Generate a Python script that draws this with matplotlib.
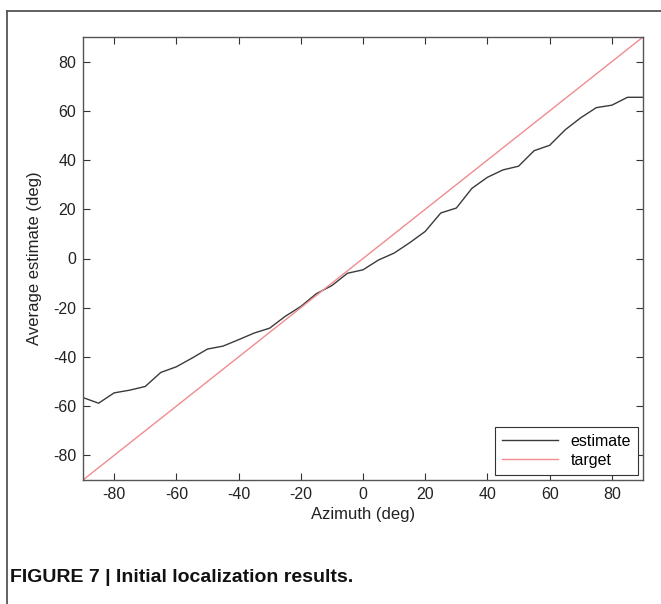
import matplotlib.pyplot as plt
import numpy as np
from matplotlib.lines import Line2D

plt.rcParams['font.family'] = ['Liberation Sans', 'DejaVu Sans']
plt.rcParams['axes.unicode_minus'] = False

# azimuth targets (deg) and average estimates
azimuth = np.arange(-90, 91, 5)
estimate = [-56.5, -58.8, -54.6, -53.5, -52.0, -46.3, -44.0, -40.5, -36.8,
            -35.6, -33.0, -30.3, -28.3, -23.5, -19.5, -14.3, -11.0, -6.0,
            -4.6, -0.6, 2.2, 6.4, 11.0, 18.5, 20.5, 28.5, 33.0, 36.0, 37.5,
            43.8, 46.0, 52.3, 57.2, 61.3, 62.3, 65.5, 65.5]
ticks = [-80, -60, -40, -20, 0, 20, 40, 60, 80]

W, H = 661, 604
fig = plt.figure(figsize=(W / 100, H / 100), dpi=100)
ax = fig.add_axes([83 / W, 1 - 480 / H, 560 / W, 443 / H])

ax.plot(azimuth, estimate, color='#3a3a3a', lw=1.0, label='estimate')
ax.plot(azimuth, azimuth, color='#f08c8c', lw=1.0, label='target')

ax.set_xlim(-90, 90)
ax.set_ylim(-90, 90)
ax.set_xticks(ticks)
ax.set_yticks(ticks)
ax.tick_params(direction='in', top=True, right=True, length=5, width=0.8,
               labelsize=11.5, colors='#333333', labelcolor='#222222', pad=5)
for s in ax.spines.values():
    s.set_color('#555555')
    s.set_linewidth(1.0)

ax.set_xlabel('Azimuth (deg)', fontsize=12, color='#222222', labelpad=4)
ax.set_ylabel('Average estimate (deg)', fontsize=12, color='#222222', labelpad=8)

leg = ax.legend(loc='lower right', fontsize=11.5, fancybox=False,
                edgecolor='#333333', handlelength=3.5, borderaxespad=0.3,
                labelspacing=0.25, borderpad=0.45, framealpha=1)
leg.get_frame().set_linewidth(0.8)

# page frame around the figure
fig.add_artist(Line2D([7 / W, 7 / W], [0, 1 - 11 / H],
                      transform=fig.transFigure, color='#555555', lw=1.3))
fig.add_artist(Line2D([7 / W, 1], [1 - 11 / H, 1 - 11 / H],
                      transform=fig.transFigure, color='#555555', lw=1.3))

fig.text(10 / W, 1 - 578 / H, 'FIGURE 7 | Initial localization results.',
         fontsize=14, fontweight='bold', va='center', ha='left',
         family=['Liberation Sans Narrow', 'Liberation Sans'], color='#111111')

fig.savefig('out.png', dpi=100)
